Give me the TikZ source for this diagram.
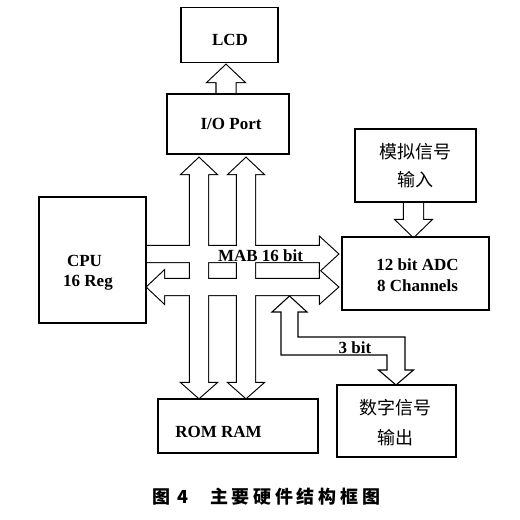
\documentclass[tikz,border=0pt]{standalone}
\usepackage{fontspec}
\setmainfont{Liberation Serif}
\newfontfamily\cjk{Noto Sans CJK SC}
\begin{document}
\begin{tikzpicture}[x=1pt,y=-1pt,
  box/.style={draw,fill=white,line width=1.1pt,inner sep=0pt},
  lat/.style={font=\fontsize{17}{20}\selectfont\bfseries,anchor=base,inner sep=0pt},
  han/.style={font=\cjk\fontsize{18}{20}\selectfont,anchor=base,inner sep=0pt},
  busout/.style={draw,line width=2.2pt,line join=miter},
  busin/.style={fill=white},
  blockarrow/.style={draw,fill=white,line width=1.1pt,line join=miter}]
\useasboundingbox (0,0) rectangle (520,520);
% hollow bus arrows: outline of their union
\def\buses{%
  \path[\bstyle] (226,65) -- (244,82) -- (235.5,82) -- (235.5,110) -- (216.5,110) -- (216.5,82) -- (208,82) -- cycle;
  \path[\bstyle] (199,158) -- (216,174) -- (208,174) -- (208,383) -- (216,383) -- (199,398) -- (182,383) -- (190,383) -- (190,174) -- (182,174) -- cycle;
  \path[\bstyle] (246,158) -- (263,174) -- (255,174) -- (255,383) -- (263,383) -- (246,398) -- (229,383) -- (237,383) -- (237,174) -- (229,174) -- cycle;
  \path[\bstyle] (120,246) -- (320,246) -- (320,237.5) -- (338,254) -- (320,270.5) -- (320,262) -- (120,262) -- cycle;
  \path[\bstyle] (147,287) -- (164,271) -- (164,279) -- (320,279) -- (320,271) -- (338,287) -- (320,303) -- (320,295) -- (164,295) -- (164,303) -- cycle;
  \path[\bstyle] (404,190) -- (423,190) -- (423,220) -- (431,220) -- (413.5,237) -- (396,220) -- (404,220) -- cycle;
}
\def\bstyle{busout}\buses
\def\bstyle{busin}\buses
% 3 bit connection
\path[blockarrow] (289.5,296) -- (307,312) -- (298,312) -- (298,337) -- (405,337) -- (405,370) -- (413.5,370) -- (396,385) -- (378.5,370) -- (387,370) -- (387,355) -- (281,355) -- (281,312) -- (272,312) -- cycle;
% boxes
\node[box,minimum width=97pt,minimum height=55pt] (lcd) at (229.5,35) {};
\node[box,minimum width=122pt,minimum height=60pt] (io) at (228,124) {};
\node[box,minimum width=121pt,minimum height=73pt] (ana) at (415.5,165.5) {};
\node[box,minimum width=147pt,minimum height=73pt] (adc) at (415.5,273.5) {};
\node[box,minimum width=107pt,minimum height=126pt] (cpu) at (92.5,260) {};
\node[box,minimum width=160pt,minimum height=54pt] (mem) at (238,426) {};
\node[box,minimum width=119pt,minimum height=72pt] (dig) at (396.5,421) {};
% texts
\node[lat] (lcdt) at (230,45) {LCD};
\node[lat] (iot) at (231,129) {I/O Port};
\node[lat] (cput1) at (84.5,266.7) {CPU};
\node[lat] (cput2) at (88,286.7) {16 Reg};
\node[lat] (adct1) at (417.5,270) {12 bit ADC};
\node[lat] (adct2) at (417.5,291.7) {8 Channels};
\node[lat] (memt) at (218.5,437) {ROM RAM};
\node[lat] (mab) at (260.5,261) {MAB 16 bit};
\node[lat] (bit3) at (355,353) {3 bit};
\node[han] (anat1) at (415,158.8) {模拟信号};
\node[han] (anat2) at (415,186.8) {输入};
\node[han] (digt1) at (395,414.8) {数字信号};
\node[han] (digt2) at (395,444.8) {输出};
\node[font=\cjk\bfseries\fontsize{18}{20}\selectfont,anchor=base west,inner sep=0pt] (cap) at (152,503.8)
  {图\hspace{7pt}4\hspace{22pt}主\hspace{3.7pt}要\hspace{3.7pt}硬\hspace{3.7pt}件\hspace{3.7pt}结\hspace{3.7pt}构\hspace{3.7pt}框\hspace{3.7pt}图};
\end{tikzpicture}
\end{document}
